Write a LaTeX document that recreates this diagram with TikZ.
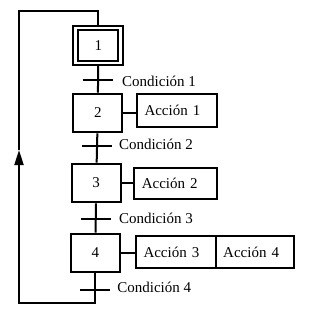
\documentclass[tikz,border=0pt]{standalone}
\usepackage{fontspec}
\setmainfont{Liberation Serif}
\usetikzlibrary{arrows.meta}
\begin{document}
\begin{tikzpicture}[x=1pt,y=-1pt,line width=2pt,
  every node/.style={font=\fontsize{15}{18}\selectfont},
  stepbox/.style={draw, minimum width=49pt, minimum height=38.6pt, inner sep=0pt},
  actbox/.style={draw, inner xsep=7.5pt, inner ysep=0pt, align=left},
  condlabel/.style={anchor=west, inner sep=0pt},
  bar/.style={line width=2pt}]
\useasboundingbox (0,0) rectangle (316,324);
% steps
\node[stepbox, minimum width=50pt, minimum height=39pt] (s1) at (98.3,45.5) {};
\node[draw, minimum width=40pt, minimum height=30.7pt, inner sep=0pt] (s1i) at (s1.center) {1};
\node[stepbox] (s2) at (97.8,113) {2};
\node[stepbox] (s3) at (96.2,183) {3};
\node[stepbox] (s4) at (95.3,253) {4};
% actions
\node[actbox, minimum height=33pt, text width=64.5pt] (a1) at (176.75,110.8) {Acción 1};
\node[actbox, minimum height=30.7pt, text width=67.2pt] (a2) at (175.4,183.6) {Acción 2};
\node[actbox, minimum height=32.3pt, text width=64.7pt] (a3) at (175.85,252.15) {Acción 3};
\node[actbox, minimum height=32.3pt, text width=63.3pt] (a4) at (254.85,252.15) {Acción 4};
% transitions
\coordinate (t1) at (97.5,80);
\coordinate (t2) at (97.2,146);
\coordinate (t3) at (96,219);
\coordinate (t4) at (95,290);
\draw (s1) -- (s2);
\draw (s2) -- (s3);
\draw (s3) -- (s4);
\foreach \t in {t1,t2,t3,t4}{\draw[bar] ([xshift=-15pt]\t) -- ([xshift=15pt]\t);}
\node[condlabel] (c1) at (121.2,81) {Condición 1};
\node[condlabel] (c2) at (118.0,144) {Condición 2};
\node[condlabel] (c3) at (118.0,218.8) {Condición 3};
\node[condlabel] (c4) at (116.4,287.8) {Condición 4};
% step-action links
\draw (s2.east) -- (s2.east -| a1.west);
\draw (s3.east) -- (s3.east -| a2.west);
\draw (s4.east) -- (s4.east -| a3.west);
% loop back
\coordinate (bl) at (19,303);
\coordinate (arr) at (19,150);
\coordinate (tl) at (19,11);
\draw[-{Triangle[length=15pt,width=9pt]}] (s4.south) -- (s4.south |- bl) -- (bl) -- (arr);
\draw (arr) -- (tl) -| (s1.north);
\end{tikzpicture}
\end{document}
